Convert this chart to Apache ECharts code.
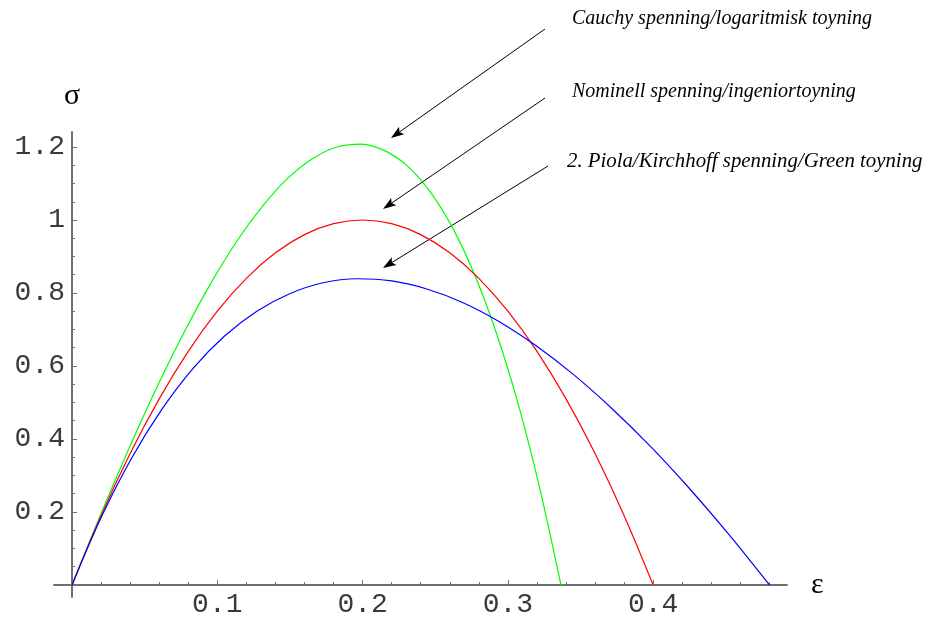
<!DOCTYPE html>
<html><head><meta charset="utf-8">
<script src="https://cdn.jsdelivr.net/npm/echarts@6/dist/echarts.min.js"></script>
<style>html,body{margin:0;padding:0;background:#fff}#c{width:928px;height:619px}</style>
</head><body><div id="c"></div>
<script>
// Nominal stress vs engineering strain (red)
const strainEngineering = [0,0.02,0.04,0.06,0.08,0.10,0.12,0.14,0.16,0.18,0.20,0.22,0.24,0.26,0.28,0.30,0.32,0.34,0.36,0.38,0.40];
const stressNominal     = [0,0.19,0.36,0.51,0.64,0.75,0.84,0.91,0.96,0.99,1.00,0.99,0.96,0.91,0.84,0.75,0.64,0.51,0.36,0.19,0];
// Cauchy stress vs logarithmic strain (green)
const strainLog         = [0,0.0198,0.0392,0.0583,0.0770,0.0953,0.1133,0.1310,0.1484,0.1655,0.1823,0.1989,0.2151,0.2311,0.2469,0.2624,0.2776,0.2927,0.3075,0.3221,0.3365];
const stressCauchy      = [0,0.194,0.374,0.541,0.691,0.825,0.941,1.037,1.114,1.168,1.200,1.208,1.190,1.147,1.075,0.975,0.845,0.683,0.490,0.262,0];
// 2nd Piola-Kirchhoff stress vs Green strain (blue)
const strainGreen       = [0,0.0202,0.0408,0.0618,0.0832,0.105,0.1272,0.1498,0.1728,0.1962,0.22,0.2442,0.2688,0.2938,0.3192,0.345,0.3712,0.3978,0.4248,0.4522,0.48];
const stressPK2         = [0,0.186,0.346,0.481,0.593,0.682,0.750,0.798,0.828,0.839,0.833,0.811,0.774,0.722,0.656,0.577,0.485,0.381,0.265,0.138,0];

const xMajorTicks = [0.1,0.2,0.3,0.4];
const xMinorTicks = [0.02,0.04,0.06,0.08,0.12,0.14,0.16,0.18,0.22,0.24,0.26,0.28,0.32,0.34,0.36,0.38,0.42,0.44,0.46,0.48];
const yMajorTicks = [0.2,0.4,0.6,0.8,1,1.2];
const yMinorTicks = [0.05,0.1,0.15,0.25,0.3,0.35,0.45,0.5,0.55,0.65,0.7,0.75,0.85,0.9,0.95,1.05,1.1,1.15];

const labels = [
  {text:'Cauchy spenning/logaritmisk toyning', size:20, x:572, y:19, from:[545,29], to:[391,138]},
  {text:'Nominell spenning/ingeniortoyning', size:20, x:572, y:92, from:[545,98], to:[383,209]},
  {text:'2. Piola/Kirchhoff spenning/Green toyning', size:20.8, x:567, y:162, from:[548,166], to:[383,268]}
];

const pairs = (xs, ys) => xs.map((x, i) => [x, ys[i]]);
const X_MIN = -0.0124, X_MAX = 0.4921, Y_MIN = -0.0329, Y_MAX = 1.2411;
const axisColor = '#707070';
const fmt = v => String(+(+v).toFixed(2));

function arrow(x1, y1, x2, y2) {
  const dx = x2 - x1, dy = y2 - y1, L = Math.hypot(dx, dy), ux = dx / L, uy = dy / L;
  const hl = 13, hw = 4.5;
  const bx = x2 - ux * hl, by = y2 - uy * hl;
  const nx = x2 - ux * hl * 0.8, ny = y2 - uy * hl * 0.8;
  return [
    {type:'line', shape:{x1:x1, y1:y1, x2:nx, y2:ny}, style:{stroke:'#000', lineWidth:1}},
    {type:'polygon', shape:{points:[[x2,y2],[bx-uy*hw,by+ux*hw],[nx,ny],[bx+uy*hw,by-ux*hw]]}, style:{fill:'#000'}}
  ];
}

const graphics = [];
labels.forEach(l => {
  graphics.push({type:'text', x:l.x, y:l.y, style:{text:l.text, font:'italic ' + l.size + 'px "Liberation Serif"', fill:'#000', textAlign:'left', textVerticalAlign:'middle'}});
  arrow(l.from[0], l.from[1], l.to[0], l.to[1]).forEach(g => graphics.push(g));
});

const chart = echarts.init(document.getElementById('c'), null, {renderer:'canvas'});
chart.setOption({
  animation: false,
  backgroundColor: '#fff',
  grid: {left:54, top:132, width:733, height:465, containLabel:false, outerBoundsMode:'none'},
  xAxis: [
    {type:'value', min:X_MIN, max:X_MAX, position:'bottom',
     name:'ε', nameLocation:'end', nameGap:24,
     nameTextStyle:{fontFamily:'Liberation Serif', fontSize:30, color:'#000', verticalAlign:'middle'},
     axisLine:{onZero:true, onZeroAxisIndex:0, lineStyle:{color:axisColor, width:2}},
     axisTick:{show:true, inside:true, length:5, customValues:xMajorTicks, lineStyle:{color:axisColor, width:1}},
     axisLabel:{customValues:xMajorTicks, formatter:fmt, margin:-6, fontFamily:'Liberation Mono', fontSize:28, color:'#3a3a3a'},
     splitLine:{show:false}},
    {type:'value', min:X_MIN, max:X_MAX, position:'bottom',
     axisLine:{show:false, onZero:true, onZeroAxisIndex:0},
     axisTick:{show:true, inside:true, length:3, customValues:xMinorTicks, lineStyle:{color:axisColor, width:1}},
     axisLabel:{show:false}, splitLine:{show:false}}
  ],
  yAxis: [
    {type:'value', min:Y_MIN, max:Y_MAX, position:'left',
     name:'σ', nameLocation:'end', nameGap:21,
     nameTextStyle:{fontFamily:'Liberation Serif', fontSize:30, color:'#000', align:'center'},
     axisLine:{onZero:true, onZeroAxisIndex:0, lineStyle:{color:axisColor, width:2}},
     axisTick:{show:true, inside:true, length:5, customValues:yMajorTicks, lineStyle:{color:axisColor, width:1}},
     axisLabel:{customValues:yMajorTicks, formatter:fmt, margin:-11, fontFamily:'Liberation Mono', fontSize:28, color:'#3a3a3a'},
     splitLine:{show:false}},
    {type:'value', min:Y_MIN, max:Y_MAX, position:'left',
     axisLine:{show:false, onZero:true, onZeroAxisIndex:0},
     axisTick:{show:true, inside:true, length:3, customValues:yMinorTicks, lineStyle:{color:axisColor, width:1}},
     axisLabel:{show:false}, splitLine:{show:false}}
  ],
  series: [
    {type:'line', name:'Cauchy', data:pairs(strainLog, stressCauchy), xAxisIndex:0, yAxisIndex:0, showSymbol:false, smooth:0.35, clip:false,
     lineStyle:{color:'#00ff00', width:1.2}},
    {type:'line', name:'Nominell', data:pairs(strainEngineering, stressNominal), xAxisIndex:0, yAxisIndex:0, showSymbol:false, smooth:0.35, clip:false,
     lineStyle:{color:'#ff0000', width:1.2}},
    {type:'line', name:'PK2', data:pairs(strainGreen, stressPK2), xAxisIndex:0, yAxisIndex:0, showSymbol:false, smooth:0.35, clip:false,
     lineStyle:{color:'#0000ff', width:1.2}}
  ],
  graphic: graphics
});
</script>
</body></html>
